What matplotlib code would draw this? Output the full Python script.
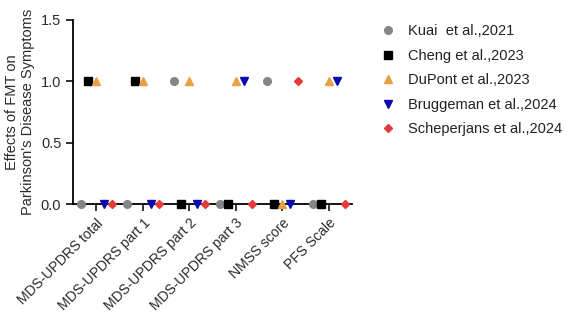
import matplotlib
matplotlib.use("Agg")
import matplotlib.pyplot as plt
import numpy as np

plt.rcParams['font.family'] = ['Liberation Sans', 'DejaVu Sans']

categories = ["MDS-UPDRS total", "MDS-UPDRS part 1", "MDS-UPDRS part 2",
              "MDS-UPDRS part 3", "NMSS score", "PFS Scale"]
studies = ["Kuai  et al.,2021", "Cheng et al.,2023", "DuPont et al.,2023",
           "Bruggeman et al.,2024", "Scheperjans et al.,2024"]
kuai = [0, 0, 1, 0, 1, 0]
cheng = [1, 1, 0, 0, 0, 0]
dupont = [1, 1, 1, 1, 0, 1]
bruggeman = [0, 0, 0, 1, 0, 1]
scheperjans = [0, 0, 0, 0, 1, 0]
series = [kuai, cheng, dupont, bruggeman, scheperjans]
markers = ['o', 's', '^', 'v', 'D']
colors = ['#858585', '#000000', '#E8A045', '#0A0AB0', '#E83838']
sizes = [5.5, 5.5, 5.5, 5.5, 4]
offsets = [-0.34, -0.17, 0.0, 0.17, 0.34]

fig = plt.figure(figsize=(5.67, 3.17), dpi=100)
ax = fig.add_axes([0.129, 0.356, 0.492, 0.581])
x = np.arange(len(categories))
for vals, m, c, s, off, lab in zip(series, markers, colors, sizes, offsets, studies):
    ax.plot(x + off, vals, linestyle='none', marker=m, color=c, markersize=s,
            label=lab, clip_on=False, zorder=3)

ax.set_xlim(-0.5, 5.5)
ax.set_ylim(0, 1.5)
ax.set_yticks([0, 0.5, 1.0, 1.5])
ax.set_yticklabels(["0.0", "0.5", "1.0", "1.5"])
ax.set_xticks(x)
ax.set_xticklabels(categories, rotation=45, ha='right', rotation_mode='anchor')
for s in ['top', 'right']:
    ax.spines[s].set_visible(False)
for s in ['left', 'bottom']:
    ax.spines[s].set_linewidth(1.3)
ax.tick_params(axis='both', width=1.3, length=5, color='#222222',
               labelcolor='#2a2a2a')
ax.tick_params(axis='x', labelsize=10)
ax.tick_params(axis='y', labelsize=10.5)
ax.set_ylabel("Effects of FMT on\nParkinson's Disease Symptoms", fontsize=10.5,
              color='#2a2a2a', labelpad=4)

leg = fig.legend(loc='upper left', bbox_to_anchor=(0.645, 0.965), frameon=False,
                 fontsize=10.5, handletextpad=0.8, labelspacing=0.72,
                 handlelength=1.2)
for t in leg.get_texts():
    t.set_color('#222222')

fig.savefig("out.png", dpi=100)
